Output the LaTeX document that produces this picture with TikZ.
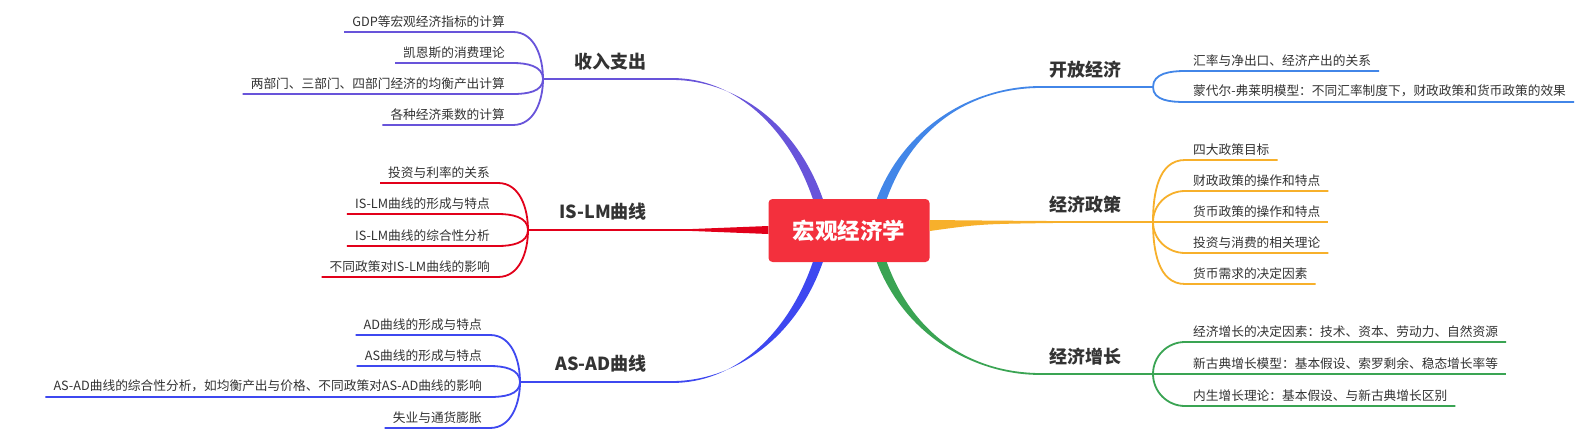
\documentclass[tikz,border=0pt]{standalone}
\usepackage{fontspec}
\setmainfont{Noto Sans CJK SC}
\usetikzlibrary{calc, positioning}
\definecolor{rootred}{RGB}{243, 48, 61}
\definecolor{szpurple}{RGB}{104, 84, 218}
\definecolor{islmred}{RGB}{226, 0, 26}
\definecolor{asadblue}{RGB}{62, 72, 240}
\definecolor{openblue}{RGB}{66, 134, 232}
\definecolor{policyorange}{RGB}{247, 176, 43}
\definecolor{growgreen}{RGB}{58, 164, 83}
\definecolor{txtgray}{RGB}{51, 51, 51}

\tikzset{
  root/.style={fill=rootred, rounded corners=4pt, minimum width=161pt, minimum height=63pt,
    text=white, font=\fontsize{22.5}{27}\selectfont\bfseries, inner sep=0pt},
  branch/.style={font=\fontsize{18}{22}\selectfont\bfseries, text=txtgray, inner sep=0pt},
  leafl/.style={font=\fontsize{12.7}{15}\selectfont, text=txtgray, inner xsep=8pt, inner ysep=4.5pt, anchor=south east},
  leafr/.style={leafl, anchor=south west},
  twig/.style={line width=1.8pt},
}

\begin{document}
\begin{tikzpicture}[x=1pt, y=1pt]
\fill[white] (0,0) rectangle (1585,-439);
\useasboundingbox (0,0) rectangle (1585,-439);

\node[root] (root) at (849,-230.5) {宏观经济学};

% forks and bends
\coordinate (fSZ) at (543,-79);
\coordinate (fIS) at (528,-230);
\coordinate (fAS) at (520,-382);
\coordinate (fOE) at (1153,-87);
\coordinate (fEP) at (1153,-222);
\coordinate (fEG) at (1153,-374);
\coordinate (bSZ) at (673,-79);
\coordinate (bIS) at (690,-230);
\coordinate (bAS) at (673,-382);
\coordinate (bOE) at (1040,-87);
\coordinate (bEP) at (1060,-222);
\coordinate (bEG) at (1040,-374);

% main branches, thick at the root
\fill[szpurple] ($(root.north west)+(44.5,0)$) .. controls (786,-121) and (730,-78.1) .. ($(bSZ)+(0,0.9)$)
  -- ($(bSZ)+(0,-0.9)$) .. controls (732,-80.4) and (795,-120) .. ($(root.north west)+(54.5,0)$) -- cycle;
\fill[asadblue] ($(root.south west)+(44.5,0)$) .. controls (786,-340) and (730,-382.9) .. ($(bAS)+(0,-0.9)$)
  -- ($(bAS)+(0,0.9)$) .. controls (732,-380.6) and (795,-341) .. ($(root.south west)+(54.5,0)$) -- cycle;
\fill[islmred] ($(root.west)+(0,4.5)$) .. controls (730,-228) .. ($(bIS)+(0,0.9)$)
  -- ($(bIS)+(0,-0.9)$) .. controls (730,-232) .. ($(root.west)+(0,-3.5)$) -- cycle;
\fill[openblue] ($(root.north west)+(108.5,0)$) .. controls (905,-125) and (975,-86.1) .. ($(bOE)+(0,0.9)$)
  -- ($(bOE)+(0,-0.9)$) .. controls (973,-88.4) and (914,-124) .. ($(root.north west)+(118.5,0)$) -- cycle;
\fill[growgreen] ($(root.south west)+(108.5,0)$) .. controls (905,-336) and (975,-374.9) .. ($(bEG)+(0,-0.9)$)
  -- ($(bEG)+(0,0.9)$) .. controls (973,-372.6) and (914,-337) .. ($(root.south west)+(118.5,0)$) -- cycle;
\fill[policyorange] ($(root.east)+(0,10.5)$) .. controls (980,-220.5) .. ($(bEP)+(0,0.9)$)
  -- ($(bEP)+(0,-0.9)$) .. controls (980,-224) .. ($(root.east)+(0,-0.5)$) -- cycle;

\draw[szpurple, twig] (bSZ) -- (fSZ);
\draw[islmred, twig] (bIS) -- (fIS);
\draw[asadblue, twig] (bAS) -- (fAS);
\draw[openblue, twig] (bOE) -- (fOE);
\draw[policyorange, twig] (bEP) -- (fEP);
\draw[growgreen, twig] (bEG) -- (fEG);

% branch labels
\node[branch, anchor=east] (lSZ) at (647,-62) {收入支出};
\node[branch, anchor=east] (lIS) at (647,-212) {IS-LM曲线};
\node[branch, anchor=east] (lAS) at (647,-364) {AS-AD曲线};
\node[branch, anchor=west] (lOE) at (1049,-70) {开放经济};
\node[branch, anchor=west] (lEP) at (1049,-205) {经济政策};
\node[branch, anchor=west] (lEG) at (1049,-357) {经济增长};

% 收入支出
\node[leafl] (sz1) at (513,-32) {GDP等宏观经济指标的计算};
\node[leafl] (sz2) at (513,-63) {凯恩斯的消费理论};
\node[leafl] (sz3) at (513,-94) {两部门、三部门、四部门经济的均衡产出计算};
\node[leafl] (sz4) at (513,-125) {各种经济乘数的计算};
\draw[szpurple, twig] (fSZ) to[out=90, in=0] (sz1.south east) -- (sz1.south west);
\draw[szpurple, twig] (fSZ) to[out=90, in=0] (sz2.south east) -- (sz2.south west);
\draw[szpurple, twig] (fSZ) to[out=-90, in=0] (sz3.south east) -- (sz3.south west);
\draw[szpurple, twig] (fSZ) to[out=-90, in=0] (sz4.south east) -- (sz4.south west);

% IS-LM曲线
\node[leafl] (is1) at (498,-183) {投资与利率的关系};
\node[leafl] (is2) at (498,-214) {IS-LM曲线的形成与特点};
\node[leafl] (is3) at (498,-246) {IS-LM曲线的综合性分析};
\node[leafl] (is4) at (498,-277) {不同政策对IS-LM曲线的影响};
\draw[islmred, twig] (fIS) to[out=90, in=0] (is1.south east) -- (is1.south west);
\draw[islmred, twig] (fIS) to[out=90, in=0] (is2.south east) -- (is2.south west);
\draw[islmred, twig] (fIS) to[out=-90, in=0] (is3.south east) -- (is3.south west);
\draw[islmred, twig] (fIS) to[out=-90, in=0] (is4.south east) -- (is4.south west);

% AS-AD曲线
\node[leafl] (as1) at (490,-335) {AD曲线的形成与特点};
\node[leafl] (as2) at (490,-366) {AS曲线的形成与特点};
\node[leafl] (as3) at (490,-397) {AS-AD曲线的综合性分析，如均衡产出与价格、不同政策对AS-AD曲线的影响};
\node[leafl] (as4) at (490,-428) {失业与通货膨胀};
\draw[asadblue, twig] (fAS) to[out=90, in=0] (as1.south east) -- (as1.south west);
\draw[asadblue, twig] (fAS) to[out=90, in=0] (as2.south east) -- (as2.south west);
\draw[asadblue, twig] (fAS) to[out=-90, in=0] (as3.south east) -- (as3.south west);
\draw[asadblue, twig] (fAS) to[out=-90, in=0] (as4.south east) -- (as4.south west);

% 开放经济
\node[leafr] (oe1) at (1185,-71) {汇率与净出口、经济产出的关系};
\node[leafr] (oe2) at (1185,-102) {蒙代尔-弗莱明模型：不同汇率制度下，财政政策和货币政策的效果};
\draw[openblue, twig] (fOE) to[out=90, in=180] (oe1.south west) -- (oe1.south east);
\draw[openblue, twig] (fOE) to[out=-90, in=180] (oe2.south west) -- (oe2.south east);

% 经济政策
\node[leafr] (ep1) at (1185,-160) {四大政策目标};
\node[leafr] (ep2) at (1185,-191) {财政政策的操作和特点};
\node[leafr] (ep3) at (1185,-222) {货币政策的操作和特点};
\node[leafr] (ep4) at (1185,-253) {投资与消费的相关理论};
\node[leafr] (ep5) at (1185,-284) {货币需求的决定因素};
\draw[policyorange, twig] (fEP) to[out=90, in=180] (ep1.south west) -- (ep1.south east);
\draw[policyorange, twig] (fEP) to[out=90, in=180] (ep2.south west) -- (ep2.south east);
\draw[policyorange, twig] (fEP) -- (ep3.south west) -- (ep3.south east);
\draw[policyorange, twig] (fEP) to[out=-90, in=180] (ep4.south west) -- (ep4.south east);
\draw[policyorange, twig] (fEP) to[out=-90, in=180] (ep5.south west) -- (ep5.south east);

% 经济增长
\node[leafr] (eg1) at (1185,-342) {经济增长的决定因素：技术、资本、劳动力、自然资源};
\node[leafr] (eg2) at (1185,-374) {新古典增长模型：基本假设、索罗剩余、稳态增长率等};
\node[leafr] (eg3) at (1185,-406) {内生增长理论：基本假设、与新古典增长区别};
\draw[growgreen, twig] (fEG) to[out=90, in=180] (eg1.south west) -- (eg1.south east);
\draw[growgreen, twig] (fEG) -- (eg2.south west) -- (eg2.south east);
\draw[growgreen, twig] (fEG) to[out=-90, in=180] (eg3.south west) -- (eg3.south east);
\end{tikzpicture}
\end{document}
